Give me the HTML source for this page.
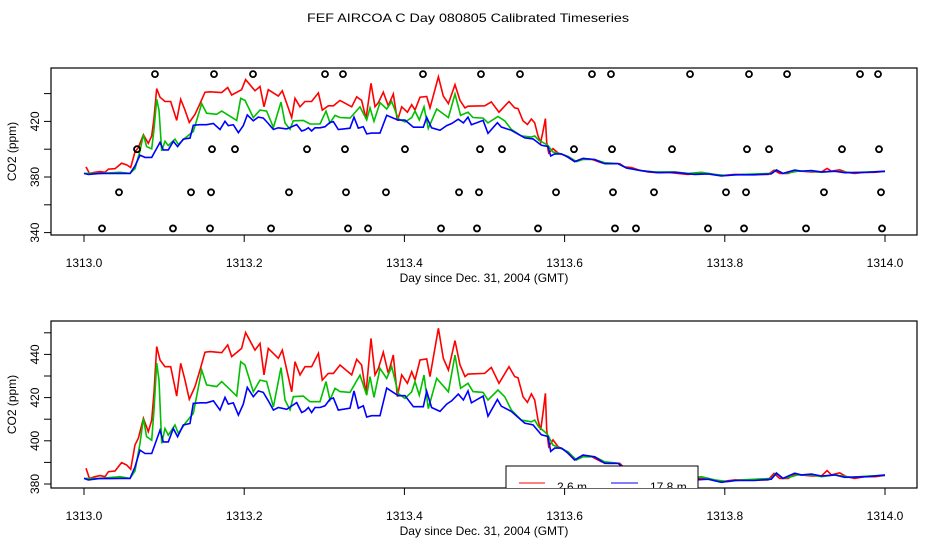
<!DOCTYPE html>
<html><head><meta charset="utf-8"><style>
html,body{margin:0;padding:0;background:#fff}
svg{display:block;font-family:"Liberation Sans",sans-serif}
</style></head><body>
<svg id="chart" width="936" height="540" viewBox="0 0 936 540">
<defs>
<clipPath id="clipTop"><rect x="51" y="68" width="866" height="167"/></clipPath>
<clipPath id="clipBot"><rect x="51" y="321" width="866" height="167"/></clipPath>
</defs>
<text x="468" y="22" text-anchor="middle" font-size="12" textLength="322" lengthAdjust="spacingAndGlyphs">FEF AIRCOA C  Day 080805  Calibrated Timeseries</text>
<g id="top"></g>
<g id="bot"></g>
</svg>
<script>
const redT=[.0025,.0067,.0137,.02,.0262,.0304,.0387,.047,.0533,.0583,.0637,.0678,.0741,.0803,.0845,.0874,.0907,.0949,.1011,.1082,.1157,.1207,.1261,.1315,.1386,.1448,.1511,.1573,.1719,.1794,.1844,.1968,.2018,.2135,.2197,.2247,.2301,.2426,.2476,.2593,.2634,.2697,.2759,.2842,.2926,.2975,.305,.3113,.3196,.3342,.3404,.3466,.3521,.3583,.3633,.3675,.3737,.3799,.3862,.3912,.3966,.4037,.4091,.4132,.4195,.4278,.432,.4424,.4486,.4549,.4632,.4694,.4757,
.4794,.5002,.5085,.5181,.5306,.5377,.5418,.5481,.5535,.5585,.5627,.5668,.5701,.5735,.576,.5776,.5801,.5855,.5918,.6001,.6126,.623,.6334,.6459,.6542,.6688,.675,.6833,.6937,.7041,.7166,.7291,.7416,.7541,.7666,.7791,.7957,.8123,.8331,.854,.8614,.8685,.879,.8873,.9081,.9206,.9277,.9331,.9435,.9518,.9621,.9746,.9871,1.0];
const redV=[387.3,382.6,383.4,383.9,383.4,385.7,386.0,389.9,388.8,386.8,398.1,401.1,410.4,404.2,409.6,422.3,443.6,437.4,434.3,434.3,420.7,435.9,428.1,419.2,425.1,432.8,441.0,441.3,440.8,444.4,439.0,442.8,450.1,442.0,445.1,430.5,442.8,438.2,442.0,422.7,436.6,430.5,434.3,434.3,440.5,428.1,431.2,431.2,435.1,430.5,437.7,435.1,422.0,447.4,430.5,433.5,441.0,431.2,439.7,420.4,430.5,426.6,432.0,428.1,437.4,437.9,429.7,452.1,438.2,432.8,446.4,435.1,429.7,
430.9,431.2,434.0,426.6,434.3,429.7,429.2,420.4,417.8,421.7,418.9,409.6,405.0,414.3,422.0,405.0,397.3,400.4,397.3,395.7,391.1,393.4,392.7,390.3,389.6,389.6,387.3,386.8,384.9,383.7,383.1,383.4,382.6,381.9,382.6,382.6,381.1,381.9,381.9,381.9,384.9,382.6,382.6,384.5,383.7,383.7,386.2,384.2,385.2,383.4,382.6,383.4,383.4,384.0];
const greenT=[0,.02,.0449,.0574,.0637,.0699,.0741,.0782,.0845,.0874,.0907,.0936,.097,.1011,.1053,.1136,.1178,.1261,.1365,.1469,.1531,.1656,.1719,.1906,.1956,.201,.2114,.2197,.228,.2364,.2459,.2509,.2572,.2613,.2738,.2822,.2946,.3021,.3071,.3134,.3196,.3321,.3446,.3529,.3571,.362,.3695,.3779,.3841,.3924,.4007,.4091,.4132,.4186,.4245,.4299,.4403,.4549,.4632,.4702,.4794,
.4857,.4982,.5044,.5169,.5252,.5335,.546,.5585,.5627,.5677,.5752,.5793,.5855,.596,.6043,.6147,.623,.6376,.6501,.6667,.6771,.6958,.7125,.7375,.7541,.7708,.7874,.804,.8207,.8581,.8644,.8727,.8831,.8914,.9081,.9206,.9372,.9581,.9789,1.0];
const greenV=[382.6,382.6,383.4,382.6,386.0,398.8,410.4,401.9,400.3,414.2,436.0,428.1,398.8,405.7,402.6,407.3,403.4,408.0,412.7,432.8,425.9,425.1,427.4,420.7,436.6,435.1,422.7,428.1,427.4,415.7,433.9,418.9,414.3,420.4,420.7,418.1,418.1,427.4,418.9,424.3,422.8,422.4,430.4,421.1,429.7,420.1,433.5,428.9,434.3,421.9,419.6,422.7,427.4,421.1,430.4,414.9,428.9,422.7,439.7,424.3,426.6,
422.8,422.4,418.9,423.5,420.4,414.3,409.6,408.8,409.6,406.5,404.2,402.6,398.0,396.4,394.9,391.1,392.6,392.6,390.3,389.6,386.5,384.5,383.7,383.7,382.6,383.4,381.9,381.1,381.9,382.6,385.2,382.6,383.4,384.2,384.2,383.4,384.2,383.1,383.7,384.0];
const blueT=[0,.0054,.02,.0325,.0449,.0574,.0637,.0699,.0762,.0845,.0949,.099,.1053,.1115,.1169,.124,.1323,.1365,.1448,.1531,.1615,.1698,.176,.1802,.1864,.1927,.1989,.2039,.2114,.2176,.2239,.2301,.2364,.2426,.253,.2655,.2718,.2759,.2801,.2842,.2884,.2946,.3009,.3071,.3113,.3175,.3321,.3371,.3425,.3487,.3529,.3591,.3695,.3779,.3862,.3924,.4007,.4112,.4236,.4278,.434,.4444,.4528,.459,.4673,.4736,.4794,
.4836,.4982,.5044,.5161,.521,.5335,.5502,.5606,.571,.5793,.5827,.5877,.596,.6043,.6126,.623,.6376,.6501,.6667,.6771,.6958,.7166,.7375,.7624,.7791,.7957,.8123,.8373,.8581,.8644,.8727,.8873,.8956,.9081,.9206,.9372,.9497,.9789,1.0];
const blueV=[382.6,381.9,382.6,382.5,382.6,382.6,387.9,395.7,394.1,394.1,404.9,399.5,399.5,405.7,401.9,407.3,408.0,417.3,417.6,417.6,418.5,414.2,420.1,417.0,417.6,411.9,417.0,424.7,420.4,423.1,422.4,418.5,414.2,415.4,414.6,417.7,413.1,413.9,415.4,413.1,415.4,415.4,416.2,419.3,419.8,414.2,415.1,423.1,415.1,416.2,411.0,411.6,411.6,424.4,422.4,420.9,420.9,415.8,415.8,422.9,415.4,413.6,417.0,418.5,421.6,418.9,423.1,
417.6,420.7,411.4,419.1,416.0,413.6,408.2,407.4,402.8,402.0,395.1,396.6,396.6,394.3,391.1,393.4,392.6,389.6,389.6,386.5,384.5,383.1,383.4,381.9,382.2,380.8,381.6,381.6,382.2,385.0,382.6,385.0,384.2,384.6,383.7,384.2,383.1,383.4,384.2];
const flagT=[.0886,.1623,.211,.3009,.3233,.4232,.4956,.5443,.6342,.6579,.7566,.8302,.8777,.9688,.9913,
.0662,.1598,.1885,.2784,.3258,.4007,.4944,.5218,.6117,.6592,.7341,.8277,.8552,.9463,.9925,
.0437,.1336,.1586,.2559,.3271,.377,.4682,.4931,.5893,.6604,.7116,.8015,.8265,.9238,.995,
.0225,.1111,.1573,.2335,.3296,.3546,.4457,.4906,.5668,.6629,.6891,.779,.824,.9014,.9963];
const flagV=[454,454,454,454,454,454,454,454,454,454,454,454,454,454,454,
400,400,400,400,400,400,400,400,400,400,400,400,400,400,400,
369,369,369,369,369,369,369,369,369,369,369,369,369,369,369,
343,343,343,343,343,343,343,343,343,343,343,343,343,343,343];
const xTicks=[0,0.2,0.4,0.6,0.8,1.0];
const xTickLabels=["1313.0","1313.2","1313.4","1313.6","1313.8","1314.0"];
const topYTicks=[340,360,380,400,420,440];
const topYLabels=["340","","380","","420",""];
const botYTicks=[380,390,400,410,420,430,440,450];
const botYLabels=["380","","400","","420","","440",""];

const NS="http://www.w3.org/2000/svg";
function mk(tag,attrs,parent){const e=document.createElementNS(NS,tag);for(const k in attrs)e.setAttribute(k,attrs[k]);parent.appendChild(e);return e;}
const x=t=>84+t*801;
const yTop=v=>177-(v-380)*1.39;
const yBot=v=>484-(v-380)*2.16;

function panel(g,y,top,bottom,yTicks,yLabels,clip,name){
  const box=mk('rect',{x:51,y:top,width:866,height:bottom-top,fill:'none',stroke:'#000','stroke-width':1.2},g);
  
  
  xTicks.forEach((t,i)=>{
    const tk=mk('line',{x1:x(t),x2:x(t),y1:bottom,y2:bottom+7,stroke:'#000'},g);
    
    
    const lb=mk('text',{x:x(t),y:bottom+32,'text-anchor':'middle','font-size':12},g);
    
    
    lb.textContent=xTickLabels[i];
  });
  yTicks.forEach((v,i)=>{
    const tk=mk('line',{x1:44,x2:51,y1:y(v),y2:y(v),stroke:'#000'},g);
    
    
    if(yLabels[i]){
      const lb=mk('text',{x:0,y:0,'text-anchor':'middle','font-size':12,transform:`translate(39,${y(v)}) rotate(-90)`},g);
      
      
      lb.textContent=yLabels[i];
    }
  });
  const xt=mk('text',{x:484,y:bottom+47,'text-anchor':'middle','font-size':12},g);
  
  
  xt.textContent='Day since Dec. 31, 2004 (GMT)';
  const yt=mk('text',{x:0,y:0,'text-anchor':'middle','font-size':12,transform:`translate(16,${(top+bottom)/2}) rotate(-90)`},g);
  
  
  yt.textContent='CO2 (ppm)';
  const series=[[redT,redV,'#ff0000','red-2.6m'],[greenT,greenV,'#00c000','green-mid'],[blueT,blueV,'#0000ff','blue-17.8m']];
  series.forEach(([T,V,c,n])=>{
    const n2=Math.min(T.length,V.length);
    let d='';for(let i=0;i<n2;i++)d+=(i?'L':'M')+x(T[i]).toFixed(1)+','+y(V[i]).toFixed(1);
    const p=mk('path',{d:d,fill:'none',stroke:c,'stroke-width':1.6,'clip-path':`url(#${clip})`},g);
    
    
  });
}
const gt=document.getElementById('top'),gb=document.getElementById('bot');
panel(gt,yTop,68,235,topYTicks,topYLabels,'clipTop','top');
for(let i=0;i<flagT.length;i++){
  const c=mk('circle',{cx:x(flagT[i]),cy:yTop(flagV[i]),r:3,fill:'none',stroke:'#000','stroke-width':1.8},gt);
  
  
}
panel(gb,yBot,321,488,botYTicks,botYLabels,'clipBot','bottom');
const lg=mk('g',{'clip-path':'url(#clipBot)'},gb);


mk('rect',{x:506,y:466,width:192,height:40,fill:'#fff',stroke:'#000'},lg);
mk('line',{x1:519,x2:545,y1:483,y2:483,stroke:'#ff0000'},lg);
const l1=mk('text',{x:557,y:491,'font-size':12},lg);


l1.textContent='2.6 m';
mk('line',{x1:611,x2:638,y1:483,y2:483,stroke:'#0000ff'},lg);
const l2=mk('text',{x:650,y:491,'font-size':12},lg);


l2.textContent='17.8 m';
</script>
</body></html>
